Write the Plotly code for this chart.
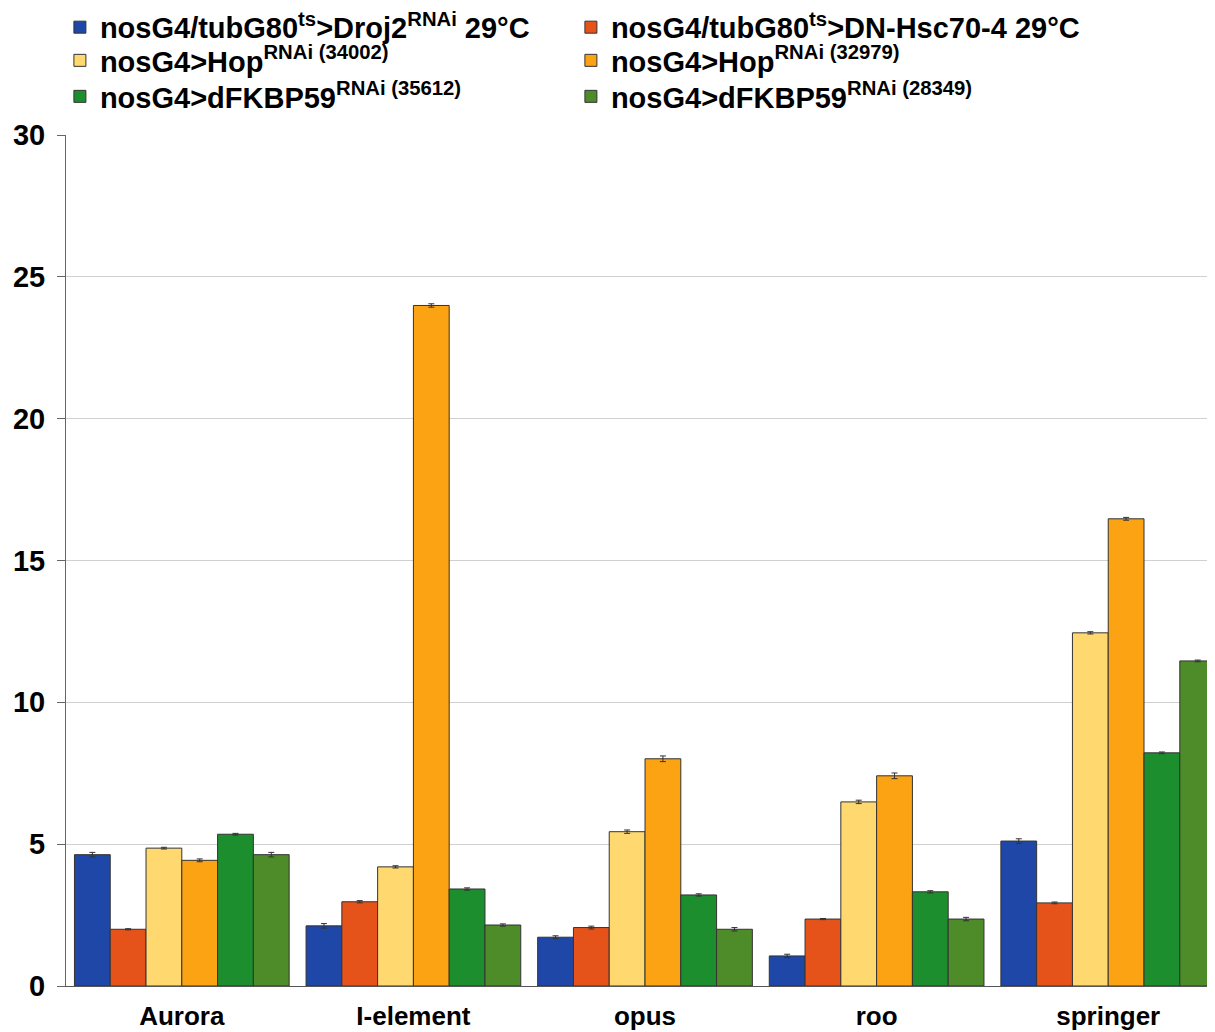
import plotly.graph_objects as go

categories = ["Aurora", "I-element", "opus", "roo", "springer"]

series_names = [
    "nosG4/tubG80<sup>ts</sup>>Droj2<sup>RNAi</sup> 29°C",
    "nosG4/tubG80<sup>ts</sup>>DN-Hsc70-4 29°C",
    "nosG4>Hop<sup>RNAi (34002)</sup>",
    "nosG4>Hop<sup>RNAi (32979)</sup>",
    "nosG4>dFKBP59<sup>RNAi (35612)</sup>",
    "nosG4>dFKBP59<sup>RNAi (28349)</sup>",
]

droj2 = [4.63, 2.12, 1.72, 1.06, 5.11]
hsc70 = [2.00, 2.97, 2.06, 2.36, 2.93]
hop34002 = [4.86, 4.20, 5.44, 6.49, 12.45]
hop32979 = [4.43, 23.99, 8.01, 7.41, 16.47]
fkbp35612 = [5.35, 3.42, 3.21, 3.32, 8.22]
fkbp28349 = [4.63, 2.15, 2.00, 2.36, 11.46]

err_droj2 = [0.08, 0.08, 0.05, 0.06, 0.08]
err_hsc70 = [0.02, 0.04, 0.05, 0.02, 0.03]
err_hop34002 = [0.03, 0.04, 0.06, 0.06, 0.04]
err_hop32979 = [0.05, 0.06, 0.10, 0.10, 0.05]
err_fkbp35612 = [0.03, 0.04, 0.04, 0.04, 0.03]
err_fkbp28349 = [0.08, 0.04, 0.06, 0.06, 0.03]

values = [droj2, hsc70, hop34002, hop32979, fkbp35612, fkbp28349]
errors = [err_droj2, err_hsc70, err_hop34002, err_hop32979, err_fkbp35612, err_fkbp28349]
colors = ["#1f47a8", "#e5531a", "#ffd970", "#fba313", "#1c8e2e", "#4e8b29"]
legend_rows = ["legend", "legend", "legend2", "legend2", "legend3", "legend3"]

FONT = "Liberation Sans, Arial, Helvetica, sans-serif"

fig = go.Figure()
for name, vals, errs, col, lg in zip(series_names, values, errors, colors, legend_rows):
    fig.add_trace(go.Bar(
        x=categories, y=vals, name=name, legend=lg,
        marker=dict(color=col, line=dict(color="#333333", width=1)),
        error_y=dict(type="data", array=errs, visible=True,
                     color="#333333", thickness=1, width=3),
    ))


def row_legend(ypos):
    return dict(
        orientation="h", xref="container", yref="paper",
        x=0.043, y=ypos, xanchor="left", yanchor="top",
        entrywidth=466, entrywidthmode="pixels",
        font=dict(size=29, family=FONT, weight="bold"),
        itemwidth=30, tracegroupgap=0,
        bgcolor="rgba(0,0,0,0)",
    )


# page body has an 8px margin, so the figure is sized to fit the window
fig.update_layout(
    width=1207, height=1024,
    barmode="group", bargap=0.073, bargroupgap=0,
    plot_bgcolor="white", paper_bgcolor="white",
    margin=dict(l=58, r=0, t=127, b=46, autoexpand=False),
    font=dict(family=FONT, color="black"),
    legend=row_legend(1.1565),
    legend2=row_legend(1.1175),
    legend3=row_legend(1.0752),
    showlegend=True,
)
fig.update_xaxes(
    range=[-0.5, 4.461],
    showline=True, linecolor="#555555", linewidth=1,
    ticks="", tickfont=dict(size=26, family=FONT, weight="bold"),
    showgrid=False, ticklabelstandoff=7,
)
fig.update_yaxes(
    range=[0, 30], tickvals=[0, 5, 10, 15, 20, 25, 30],
    showline=True, linecolor="#666666", linewidth=1,
    ticks="outside", ticklen=8, tickcolor="#666666",
    tickfont=dict(size=29, family=FONT, weight="bold"),
    showgrid=True, gridcolor="#d0d0d0", gridwidth=1,
    zeroline=False, ticklabelstandoff=6,
)

fig.write_html("out.html")
